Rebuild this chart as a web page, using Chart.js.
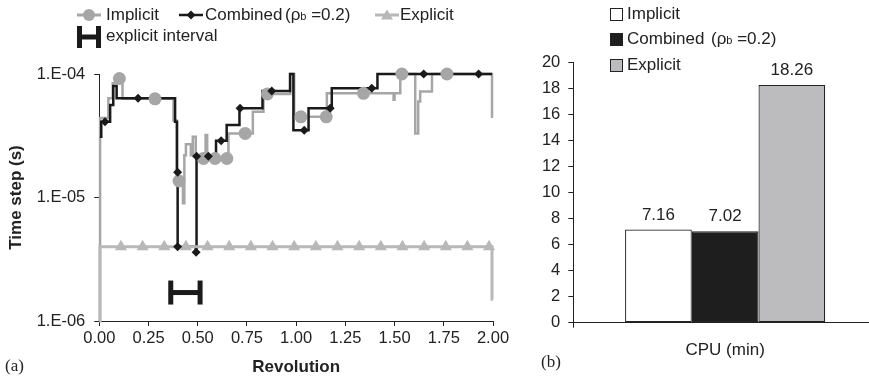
<!DOCTYPE html>
<html><head><meta charset="utf-8">
<script src="https://cdn.jsdelivr.net/npm/chart.js@4.4.1/dist/chart.umd.min.js"></script>
<style>
html,body{margin:0;padding:0;width:869px;height:380px;overflow:hidden;background:#fff;font-family:"Liberation Sans",Arial,sans-serif;color:#222;}
#wrapA{position:absolute;left:0;top:0;width:515px;height:380px;}
#wrapB{position:absolute;left:520px;top:0;width:357px;height:380px;}
.lg{position:absolute;font-size:17px;line-height:20px;white-space:nowrap;color:#222;}
.sym{position:absolute;overflow:visible;}
.sub{font-size:11px;}
.panel{position:absolute;font-family:"Liberation Serif","Times New Roman",serif;font-size:17px;line-height:20px;color:#222;}
.sq{position:absolute;width:13px;height:13px;border:1px solid #222;box-sizing:border-box;}
</style></head>
<body>
<div id="wrapA"><canvas id="cA" width="515" height="380"></canvas></div>
<div id="wrapB"><canvas id="cB" width="357" height="380"></canvas></div>

<!-- left legend -->
<svg class="sym" style="left:77px;top:8px" width="24" height="14"><line x1="0" y1="7" x2="24" y2="7" stroke="#a6a6a6" stroke-width="3"/><circle cx="12" cy="7" r="6" fill="#a6a6a6"/></svg>
<div class="lg" style="left:106px;top:5px">Implicit</div>
<svg class="sym" style="left:179px;top:8px" width="24" height="14"><line x1="0" y1="7" x2="24" y2="7" stroke="#1a1a1a" stroke-width="2.5"/><polygon points="12,2.5 16.5,7 12,11.5 7.5,7" fill="#1a1a1a"/></svg>
<div class="lg" style="left:205px;top:5px">Combined</div>
<div class="lg" style="left:285px;top:5px">(ρ<span class="sub">b</span> =0.2)</div>
<svg class="sym" style="left:375px;top:8px" width="24" height="14"><line x1="0" y1="7" x2="24" y2="7" stroke="#b8b8b8" stroke-width="3"/><polygon points="12,1.5 18,11.5 6,11.5" fill="#b8b8b8"/></svg>
<div class="lg" style="left:400px;top:5px">Explicit</div>
<svg class="sym" style="left:77px;top:26px" width="24" height="22"><rect x="0" y="0" width="5" height="22" fill="#1a1a1a"/><rect x="19" y="0" width="5" height="22" fill="#1a1a1a"/><rect x="0" y="8.5" width="24" height="5" fill="#1a1a1a"/></svg>
<div class="lg" style="left:106px;top:26px">explicit interval</div>

<!-- right legend -->
<div class="sq" style="left:610px;top:8px;background:#fff"></div>
<div class="lg" style="left:627px;top:4px">Implicit</div>
<div class="sq" style="left:610px;top:33px;background:#1e1e1e"></div>
<div class="lg" style="left:627px;top:29px">Combined</div>
<div class="lg" style="left:711px;top:29px">(ρ<span class="sub">b</span> =0.2)</div>
<div class="sq" style="left:610px;top:59px;background:#bcbcbe"></div>
<div class="lg" style="left:627px;top:55px">Explicit</div>

<div class="panel" style="left:5px;top:356px">(a)</div>
<div class="panel" style="left:541px;top:352px">(b)</div>

<script>
// ---------- Panel (a) data ----------
const revTickValues = [0, 0.25, 0.5, 0.75, 1.0, 1.25, 1.5, 1.75, 2.0];
const yTickValues = [1e-6, 1e-5, 1e-4];
const yTickLabels = ['1.E-06', '1.E-05', '1.E-04'];

// step starts (revolution) and time step values held until next start
const implicitX = [0.000, 0.004, 0.046, 0.068, 0.090, 0.118, 0.377, 0.393, 0.425, 0.432, 0.440, 0.465, 0.475, 0.490, 0.540, 0.548, 0.656, 0.780, 0.834, 0.970, 0.990, 1.156, 1.495, 1.500, 1.529, 1.605, 1.620, 1.630, 1.690, 1.995, 2.000];
const implicitY = [1.0e-6, 4.4e-5, 6.35e-5, 8.4e-5, 9.2e-5, 6.3e-5, 4.2e-5, 1.36e-5, 9.0e-6, 2.2e-5, 2.7e-5, 2.2e-5, 3.1e-5, 2.2e-5, 3.2e-5, 2.07e-5, 3.3e-5, 4.95e-5, 6.9e-5, 1.0e-4, 4.5e-5, 6.97e-5, 6.2e-5, 6.97e-5, 1.0e-4, 3.3e-5, 6.0e-5, 7.2e-5, 1.0e-4, 4.5e-5, 4.5e-5];
const implicitMarkX = [0.102, 0.283, 0.405, 0.529, 0.588, 0.648, 0.741, 0.854, 1.024, 1.153, 1.342, 1.537, 1.766];
const implicitMarkY = [9.2e-5, 6.3e-5, 1.36e-5, 2.07e-5, 2.07e-5, 2.07e-5, 3.3e-5, 6.9e-5, 4.5e-5, 4.5e-5, 6.97e-5, 1.0e-4, 1.0e-4];

const combinedX = [0.003, 0.010, 0.055, 0.071, 0.088, 0.385, 0.395, 0.398, 0.490, 0.494, 0.593, 0.647, 0.712, 0.829, 0.969, 0.986, 1.063, 1.181, 1.413, 1.995];
const combinedY = [3.1e-5, 4.1e-5, 5.6e-5, 8.0e-5, 6.35e-5, 4.1e-5, 1.6e-5, 4.0e-6, 3.6e-6, 2.16e-5, 2.88e-5, 3.86e-5, 5.27e-5, 7.3e-5, 1.0e-4, 3.5e-5, 5.27e-5, 7.65e-5, 1.0e-4, 1.0e-4];
const combinedMarkX = [0.029, 0.197, 0.398, 0.398, 0.492, 0.494, 0.554, 0.619, 0.715, 0.876, 1.041, 1.173, 1.384, 1.648, 1.927];
const combinedMarkY = [4.1e-5, 6.35e-5, 1.6e-5, 4.0e-6, 3.6e-6, 2.16e-5, 2.16e-5, 2.88e-5, 5.27e-5, 7.3e-5, 3.5e-5, 5.27e-5, 7.65e-5, 1.0e-4, 1.0e-4];

const explicitX = [0.000, 0.003, 1.995, 2.000];
const explicitY = [1.0e-6, 4.0e-6, 1.5e-6, 1.5e-6];
const explicitMarkX = [0.11, 0.22, 0.33, 0.44, 0.55, 0.66, 0.77, 0.88, 0.99, 1.10, 1.21, 1.32, 1.43, 1.54, 1.65, 1.76, 1.87, 1.98];
const explicitMarkY = [4e-6, 4e-6, 4e-6, 4e-6, 4e-6, 4e-6, 4e-6, 4e-6, 4e-6, 4e-6, 4e-6, 4e-6, 4e-6, 4e-6, 4e-6, 4e-6, 4e-6, 4e-6];

const intervalX = [0.363, 0.512];
const intervalY = [1.7e-6, 1.7e-6];

// ---------- Panel (b) data ----------
const cpuCategories = ['CPU (min)'];
const cpuImplicit = [7.16];
const cpuCombined = [7.02];
const cpuExplicit = [18.26];
const cpuTickStep = 2;

// ---------- build ----------
Chart.defaults.font.family = '"Liberation Sans", Arial, Helvetica, sans-serif';
Chart.defaults.color = '#222';

const pts = (xs, ys) => xs.map((x, i) => ({x: x, y: ys[i]}));
const BLACK = '#1a1a1a', GRAY = '#a6a6a6', LGRAY = '#b8b8b8';

new Chart(document.getElementById('cA'), {
  type: 'line',
  data: { datasets: [
    {label:'Combined markers', data: pts(combinedMarkX, combinedMarkY), showLine:false, pointStyle:'rectRot', pointRadius:4.5, pointBackgroundColor:BLACK, pointBorderColor:BLACK, pointBorderWidth:0, order:0, clip:false},
    {label:'Implicit markers', data: pts(implicitMarkX, implicitMarkY), showLine:false, pointStyle:'circle', pointRadius:6.5, pointBackgroundColor:GRAY, pointBorderColor:GRAY, pointBorderWidth:0, order:1, clip:false},
    {label:'Explicit markers', data: pts(explicitMarkX, explicitMarkY), showLine:false, pointStyle:'triangle', pointRadius:7, pointBackgroundColor:LGRAY, pointBorderColor:LGRAY, pointBorderWidth:0, order:2, clip:false},
    {label:'Explicit', data: pts(explicitX, explicitY), stepped:true, pointRadius:0, borderColor:LGRAY, borderWidth:3, order:3, clip:false},
    {label:'Combined', data: pts(combinedX, combinedY), stepped:true, pointRadius:0, borderColor:BLACK, borderWidth:2.5, order:4, clip:false},
    {label:'Implicit', data: pts(implicitX, implicitY), stepped:true, pointRadius:0, borderColor:GRAY, borderWidth:2.5, order:5, clip:false},
    {label:'explicit interval', data: pts(intervalX, intervalY), borderColor:BLACK, borderWidth:5, pointStyle:'line', pointRadius:12, pointRotation:90, pointBorderWidth:5, pointBorderColor:BLACK, order:6, clip:false}
  ]},
  options: {
    responsive:false, animation:false, events:[],
    layout:{padding:{left:0, right:22, top:74, bottom:0}},
    plugins:{legend:{display:false}, tooltip:{enabled:false}},
    scales:{
      x:{type:'linear', min:0, max:2,
        afterBuildTicks: ax => { ax.ticks = revTickValues.map(v => ({value:v})); },
        ticks:{callback: v => Number(v).toFixed(2), font:{size:16.5}, color:'#222', padding:3, maxRotation:0, autoSkip:false},
        grid:{drawOnChartArea:false, drawTicks:true, tickLength:5, color:'#222'},
        border:{display:true, color:'#222', width:1},
        title:{display:true, text:'Revolution', font:{size:17, weight:'bold'}, color:'#222', padding:{top:0, bottom:2}},
        afterFit: ax => { ax.height = 59; }
      },
      y:{type:'logarithmic', min:1e-6, max:1e-4,
        afterBuildTicks: ax => { ax.ticks = yTickValues.map(v => ({value:v})); },
        ticks:{callback: (v, i) => yTickLabels[i], font:{size:16.5}, color:'#222', padding:9, autoSkip:false},
        grid:{drawOnChartArea:false, drawTicks:true, tickLength:5, color:'#222'},
        border:{display:true, color:'#222', width:1},
        title:{display:true, text:'Time step (s)', font:{size:17, weight:'bold'}, color:'#222', padding:{top:6, bottom:0}},
        afterFit: ax => { ax.width = 99.3; }
      }
    }
  }
});

const valueLabels = {
  id:'valueLabels',
  afterDatasetsDraw(chart) {
    const ctx = chart.ctx;
    ctx.save();
    ctx.font = '17px "Liberation Sans", Arial, sans-serif';
    ctx.fillStyle = '#222';
    ctx.textAlign = 'center';
    ctx.textBaseline = 'bottom';
    chart.data.datasets.forEach((ds, di) => {
      const meta = chart.getDatasetMeta(di);
      meta.data.forEach((el, i) => {
        ctx.fillText(ds.data[i].toFixed(2), el.x, el.y - 6);
      });
    });
    ctx.restore();
  }
};

new Chart(document.getElementById('cB'), {
  type:'bar',
  data:{ labels: cpuCategories, datasets:[
    {label:'Implicit', data:cpuImplicit, backgroundColor:'#ffffff', borderColor:'#222', borderWidth:1.2, borderSkipped:false},
    {label:'Combined (ρb =0.2)', data:cpuCombined, backgroundColor:'#1e1e1e', borderColor:'#222', borderWidth:1.2, borderSkipped:false},
    {label:'Explicit', data:cpuExplicit, backgroundColor:'#bcbcbe', borderColor:'#222', borderWidth:1.2, borderSkipped:false}
  ]},
  options:{
    responsive:false, animation:false, events:[],
    layout:{padding:{left:0, right:0, top:62.3, bottom:0}},
    datasets:{bar:{barPercentage:1, categoryPercentage:0.659}},
    plugins:{legend:{display:false}, tooltip:{enabled:false}},
    scales:{
      x:{grid:{drawOnChartArea:false, drawTicks:true, tickLength:5, color:'#222'},
        border:{display:true, color:'#222', width:1},
        ticks:{font:{size:17}, color:'#222', padding:12},
        afterFit: ax => { ax.height = 57.3; }
      },
      y:{min:0, max:20,
        ticks:{stepSize:cpuTickStep, font:{size:16.5}, color:'#222', padding:8},
        grid:{drawOnChartArea:false, drawTicks:true, tickLength:5, color:'#222'},
        border:{display:true, color:'#222', width:1},
        afterFit: ax => { ax.width = 53.3; }
      }
    }
  },
  plugins:[valueLabels]
});
</script>
</body></html>
